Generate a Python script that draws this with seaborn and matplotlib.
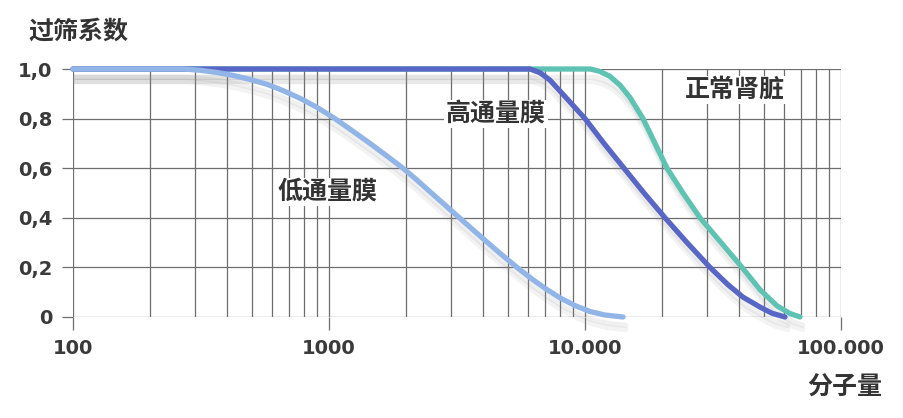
import matplotlib
matplotlib.use("Agg")
import matplotlib.pyplot as plt
import matplotlib.patheffects as pe
from matplotlib.ticker import LogLocator, FixedLocator, FixedFormatter, NullFormatter
import seaborn as sns
import pandas as pd

# DATA
low_mw = [100, 269, 313, 365, 422, 491, 573, 661, 770, 898, 1055, 1229, 1446, 1670, 1945,
          2207, 2481, 2813, 3191, 3620, 4142, 4741, 5424, 6209, 7041, 7985, 9140, 10460,
          11970, 14080]
low_sc = [1.0, 1.0, 0.995, 0.986, 0.974, 0.958, 0.938, 0.913, 0.882, 0.845, 0.80, 0.752,
          0.70, 0.652, 0.60, 0.552, 0.505, 0.455, 0.405, 0.355, 0.302, 0.25, 0.20, 0.153,
          0.113, 0.077, 0.046, 0.022, 0.008, 0.0]

high_mw = [100, 6098, 6671, 7300, 8506, 10000, 11860, 14200, 17000, 20540, 25030, 30780,
           36200, 41420, 48270, 53780, 60420]
high_sc = [1.0, 1.0, 0.985, 0.955, 0.88, 0.80, 0.70, 0.60, 0.50, 0.40, 0.30, 0.20,
           0.13, 0.08, 0.04, 0.015, 0.0]

kidney_mw = [100, 10500, 11450, 12520, 13700, 14990, 16850, 18770, 20910, 24140, 28130,
             33680, 40680, 48270, 56230, 63200, 69150]
kidney_sc = [1.0, 1.0, 0.99, 0.97, 0.935, 0.885, 0.80, 0.70, 0.60, 0.50, 0.40,
             0.305, 0.205, 0.11, 0.045, 0.014, 0.0]

x_ticks = [100, 1000, 10000, 100000]
x_labels = ["100", "1000", "10.000", "100.000"]
y_ticks = [0, 0.2, 0.4, 0.6, 0.8, 1.0]
y_labels = ["0", "0,2", "0,4", "0,6", "0,8", "1,0"]

curve_names = ["正常肾脏", "高通量膜", "低通量膜"]
curve_colors = ["#5fc3b3", "#5867c6", "#92b5e8"]

# STYLE
sns.set_theme(style="white")
grid_color = "#6e6e6e"
plt.rcParams.update({
    "font.family": ["Noto Sans CJK SC", "DejaVu Sans"],
    "xtick.bottom": True,
    "ytick.left": True,
    "xtick.direction": "out",
    "ytick.direction": "out",
    "xtick.major.size": 9.5,
    "ytick.major.size": 8,
    "xtick.major.width": 0.9,
    "ytick.major.width": 0.9,
    "xtick.minor.size": 0,
    "xtick.color": grid_color,
    "ytick.color": grid_color,
    "xtick.major.pad": 6.5,
    "ytick.major.pad": 7,
})

fig = plt.figure(figsize=(9.04, 4.18), dpi=100)
ax = fig.add_axes([73 / 904, 1 - 317 / 418, (841 - 73) / 904, (317 - 69) / 418])

frames = {
    "正常肾脏": pd.DataFrame({"mw": kidney_mw, "sc": kidney_sc}),
    "高通量膜": pd.DataFrame({"mw": high_mw, "sc": high_sc}),
    "低通量膜": pd.DataFrame({"mw": low_mw, "sc": low_sc}),
}

shadow = [
    pe.SimpleLineShadow(offset=(2, -9), shadow_color="#8a8a8a", alpha=0.10),
    pe.SimpleLineShadow(offset=(2, -6), shadow_color="#8a8a8a", alpha=0.12),
    pe.Normal(),
]

# CURVES
for i, name in enumerate(curve_names):
    sns.lineplot(
        data=frames[name],
        x="mw",
        y="sc",
        color=curve_colors[i],
        linewidth=3.8,
        sort=False,
        estimator=None,
        ax=ax,
        zorder=3 + i,
        clip_on=False,
        solid_capstyle="round",
        solid_joinstyle="round",
        path_effects=shadow,
    )

# AXES
ax.set_xscale("log")
ax.set_xlim(100, 100000)
ax.set_ylim(0, 1.0)

ax.xaxis.set_major_locator(FixedLocator(x_ticks))
ax.xaxis.set_major_formatter(FixedFormatter(x_labels))
ax.xaxis.set_minor_locator(LogLocator(base=10, subs=range(2, 10)))
ax.xaxis.set_minor_formatter(NullFormatter())
ax.yaxis.set_major_locator(FixedLocator(y_ticks))
ax.yaxis.set_major_formatter(FixedFormatter(y_labels))

for s in ax.spines.values():
    s.set_visible(False)

ax.grid(True, which="both", axis="x", color=grid_color, linewidth=0.9)
ax.grid(True, which="major", axis="y", color=grid_color, linewidth=0.9)

ax.tick_params(axis="both", which="major", labelsize=14, labelcolor="#3a3a3a")

# wide bold digits, like the original
for lab in ax.get_xticklabels() + ax.get_yticklabels():
    lab.set_family("DejaVu Sans")
    lab.set_fontweight("bold")

ax.set_xlabel("")
ax.set_ylabel("")

# CURVE LABELS
box = dict(facecolor="white", edgecolor="none", pad=1.5)
ax.text(4490, 0.819, "高通量膜", ha="center", va="center", fontsize=18,
        color="#333333", fontweight="bold", bbox=box, zorder=10)
ax.text(38500, 0.915, "正常肾脏", ha="center", va="center", fontsize=18,
        color="#333333", fontweight="bold", bbox=box, zorder=10)
ax.text(982, 0.504, "低通量膜", ha="center", va="center", fontsize=18,
        color="#333333", fontweight="bold", bbox=box, zorder=10)

# AXIS TITLES
fig.text(28 / 904, 1 - 31.5 / 418, "过筛系数", ha="left", va="center",
         fontsize=18, color="#333333", fontweight="bold")
fig.text(845 / 904, 1 - 388 / 418, "分子量", ha="center", va="center",
         fontsize=18, color="#333333", fontweight="bold")

fig.savefig("out.png", dpi=100, facecolor="white")
plt.close(fig)
